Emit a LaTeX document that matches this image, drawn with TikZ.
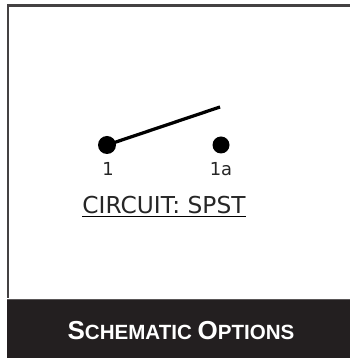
\documentclass[tikz,border=0pt]{standalone}
\usepackage{fontspec}
\setmainfont{DejaVu Sans}
\newfontfamily\bandfont{Liberation Sans}
\usetikzlibrary{positioning}
\usetikzlibrary{calc}
\definecolor{bandDark}{HTML}{231F20}
\tikzset{terminal/.style={circle, fill=black, inner sep=0pt, minimum size=0.36cm}}
\tikzset{termLabel/.style={font=\fontsize{10.2pt}{12pt}\selectfont, text=black!85, inner sep=0pt}}
\tikzset{bandLabel/.style={font=\bandfont\bfseries, text=white, inner sep=0pt}}
\begin{document}
\begin{tikzpicture}
\useasboundingbox (0, 0) rectangle (7, 7.16);
\fill[white] (0, 0) rectangle (7, 7.16);
\draw[bandDark!85, line width=0.05cm] (0.16, 1.2) -- (0.16, 7.05) -- (7, 7.05);
\fill[bandDark] (0.14, 0) rectangle (7, 1.16);
\draw[bandDark!75, line width=0.02cm] (0.14, 1.16) -- (7, 1.16);
\node[bandLabel] (bandtext) at (3.62, 0.54) {\fontsize{14.8pt}{16pt}\selectfont S\fontsize{11.7pt}{14pt}\selectfont CHEMATIC \fontsize{14.8pt}{16pt}\selectfont O\fontsize{11.7pt}{14pt}\selectfont PTIONS};

\node[terminal] (t1) at (2.14, 4.26) {};
\node[terminal, minimum size=0.34cm] (t2) at (4.42, 4.26) {};
\coordinate (armend) at (4.4, 5.02);
\draw[black, line width=0.065cm] (t1.center) -- (armend);
\node[termLabel] (l1) at (2.16, 3.78) {1};
\node[termLabel] (l2) at (4.42, 3.78) {1a};
\node[inner sep=0pt, font=\fontsize{13.25pt}{15pt}\selectfont, text=black!85] (caption) at (3.28, 3.05) {CIRCUIT: SPST};
\draw[black, line width=0.025cm] ($(caption.south west)+(0,-0.03)$) -- ($(caption.south east)+(0,-0.03)$);

\end{tikzpicture}
\end{document}
